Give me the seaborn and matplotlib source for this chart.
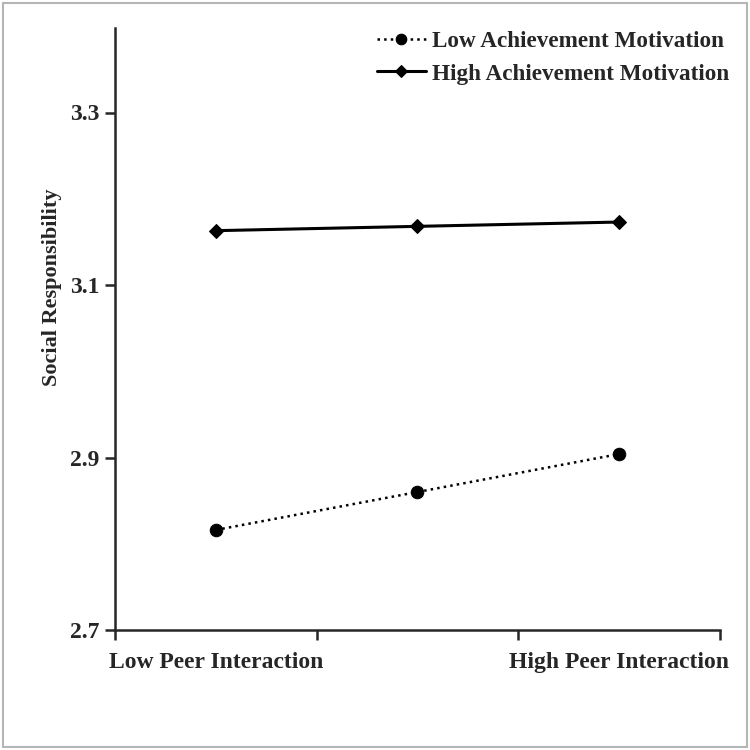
import matplotlib
matplotlib.use("Agg")
import matplotlib.pyplot as plt
import seaborn as sns
import pandas as pd
from matplotlib.patches import Rectangle

# data
positions = [0.5, 1.5, 2.5]
low_motivation = [2.816, 2.860, 2.904]
high_motivation = [3.163, 3.168, 3.173]
series_names = ["Low Achievement Motivation", "High Achievement Motivation"]
x_labels = ["Low Peer Interaction", "High Peer Interaction"]
y_ticks = [2.7, 2.9, 3.1, 3.3]

sns.set_style("ticks")
plt.rcParams['font.family'] = ['Liberation Serif', 'DejaVu Serif']
plt.rcParams['font.weight'] = 'bold'

df = pd.DataFrame({
    "x": positions * 2,
    "y": low_motivation + high_motivation,
    "group": [series_names[0]] * 3 + [series_names[1]] * 3,
})

fig = plt.figure(figsize=(7.5, 7.5), dpi=100)
ax = fig.add_axes([0.1533, 0.16, 0.8067, 0.8027])

sns.lineplot(data=df[df.group == series_names[0]], x="x", y="y", ax=ax,
             color="black", linestyle=":", linewidth=1.8, marker="o",
             markersize=9, markeredgecolor="black", label=series_names[0])
sns.lineplot(data=df[df.group == series_names[1]], x="x", y="y", ax=ax,
             color="black", linestyle="-", linewidth=2.2, marker="D",
             markersize=7, markeredgecolor="black", label=series_names[1])

ax.set_xlim(0, 3)
ax.set_ylim(2.7, 3.398)
ax.set_xticks([0, 1, 2, 3])
ax.set_xticklabels([])
ax.set_xticks([0.5, 2.5], minor=True)
ax.set_xticklabels(x_labels, minor=True, fontsize=17, fontweight="bold")
ax.tick_params(axis="x", which="minor", length=0, pad=16)
ax.tick_params(axis="x", which="major", length=7, width=1.8, direction="out")
ax.set_yticks(y_ticks)
ax.set_yticklabels([f"{v:.1f}" for v in y_ticks], fontsize=17, fontweight="bold")
ax.tick_params(axis="y", length=7, width=1.8, direction="out", pad=4)

for side in ["top", "right"]:
    ax.spines[side].set_visible(False)
for side in ["left", "bottom"]:
    ax.spines[side].set_linewidth(1.8)

ax.set_xlabel("")
ax.set_ylabel("Social Responsibility", fontsize=16, fontweight="bold")
ax.yaxis.set_label_coords(-0.088, 0.57)

leg = ax.legend(loc="upper right", frameon=False, fontsize=16.7, handlelength=2.1,
                handletextpad=0.25, borderaxespad=0.0, labelspacing=0.47,
                markerscale=0.85, bbox_to_anchor=(1.03, 1.01))
for t in leg.get_texts():
    t.set_fontweight("bold")

fig.patches.append(Rectangle((0.004, 0.004), 0.992, 0.992, transform=fig.transFigure,
                             fill=False, edgecolor="#b5b5b5", linewidth=1.5))

fig.savefig("out.png", dpi=100)
